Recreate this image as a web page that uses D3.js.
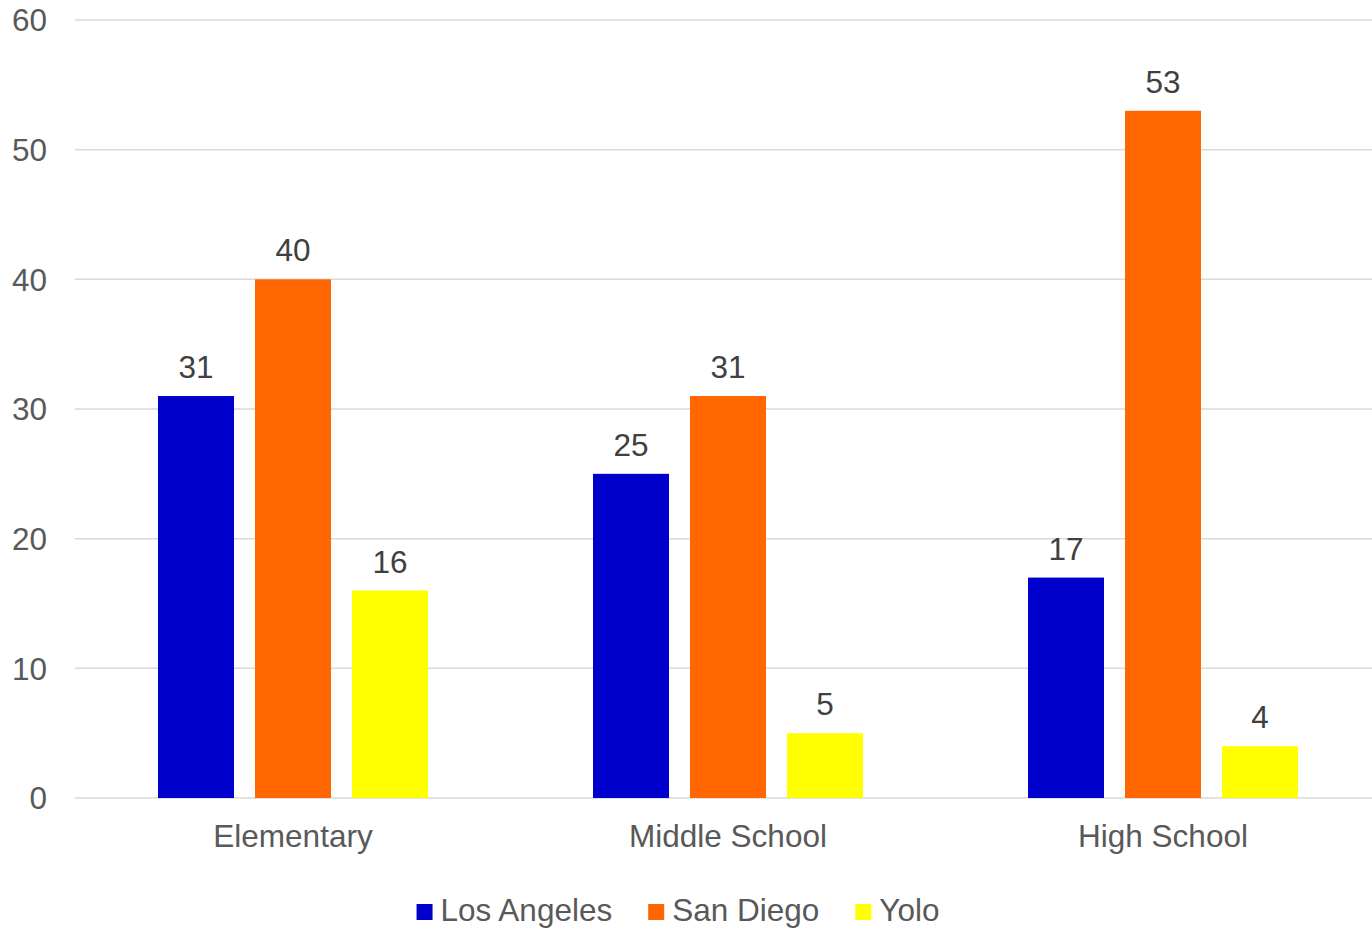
<!DOCTYPE html>
<html>
<head>
<meta charset="utf-8">
<script src="https://cdn.jsdelivr.net/npm/d3@7"></script>
<style>
  html, body { margin: 0; padding: 0; background: #fff; }
  svg { display: block; font-family: "Liberation Sans", Arial, sans-serif; }
</style>
</head>
<body>
<svg id="chart" width="1372" height="929"></svg>
<script>
const categories = ["Elementary", "Middle School", "High School"];
const seriesNames = ["Los Angeles", "San Diego", "Yolo"];
const losAngeles = [31, 25, 17];
const sanDiego = [40, 31, 53];
const yolo = [16, 5, 4];
const yTicks = [0, 10, 20, 30, 40, 50, 60];
const colors = ["#0000CC", "#FF6600", "#FFFF00"];

const seriesValues = [losAngeles, sanDiego, yolo];

const svg = d3.select("#chart");
const fontSize = 31.5;

const x0 = d3.scaleBand().domain(categories).range([75.5, 1380.5]).padding(0);
const x1 = d3.scaleBand().domain(seriesNames).range([82.5, 352.5]).paddingInner(0.2165).paddingOuter(0);
const y = d3.scaleLinear().domain([0, 60]).range([798, 20]);

// gridlines
svg.append("g").selectAll("line").data(yTicks).join("line")
  .attr("x1", 75).attr("x2", 1372)
  .attr("y1", d => y(d)).attr("y2", d => y(d))
  .attr("stroke", "#d9d9d9").attr("stroke-width", 1.5);

// y tick labels
svg.append("g").selectAll("text").data(yTicks).join("text")
  .attr("x", 47).attr("y", d => y(d))
  .attr("dy", "0.36em")
  .attr("text-anchor", "end")
  .attr("font-size", fontSize).attr("fill", "#595959")
  .text(d => d);

// bars
const groups = svg.append("g").selectAll("g").data(categories).join("g")
  .attr("transform", c => `translate(${x0(c)},0)`);

groups.each(function(c, ci) {
  const g = d3.select(this);
  const data = seriesNames.map((s, si) => ({ s, si, v: seriesValues[si][ci] }));
  g.selectAll("rect").data(data).join("rect")
    .attr("x", d => x1(d.s)).attr("width", x1.bandwidth())
    .attr("y", d => y(d.v)).attr("height", d => y(0) - y(d.v))
    .attr("fill", d => colors[d.si]);
  g.selectAll("text").data(data).join("text")
    .attr("x", d => x1(d.s) + x1.bandwidth() / 2)
    .attr("y", d => y(d.v) - 18)
    .attr("text-anchor", "middle")
    .attr("font-size", fontSize).attr("fill", "#404040")
    .text(d => d.v);
});

// category labels
svg.append("g").selectAll("text").data(categories).join("text")
  .attr("x", c => x0(c) + x0.bandwidth() / 2)
  .attr("y", 847)
  .attr("text-anchor", "middle")
  .attr("font-size", fontSize).attr("fill", "#595959")
  .text(c => c);

// legend
const legend = svg.append("g");
const items = legend.selectAll("g").data(seriesNames).join("g");
items.append("rect").attr("width", 16).attr("height", 16).attr("y", 904)
  .attr("fill", (d, i) => colors[i]);
items.append("text").attr("x", 24).attr("y", 921)
  .attr("font-size", fontSize).attr("fill", "#595959").text(d => d);
let widths = [];
items.each(function() { widths.push(24 + d3.select(this).select("text").node().getComputedTextLength()); });
const gap = 36;
const total = d3.sum(widths) + gap * (widths.length - 1);
let cx = 678 - total / 2;
items.each(function(d, i) {
  d3.select(this).attr("transform", `translate(${cx},0)`);
  cx += widths[i] + gap;
});
</script>
</body>
</html>
